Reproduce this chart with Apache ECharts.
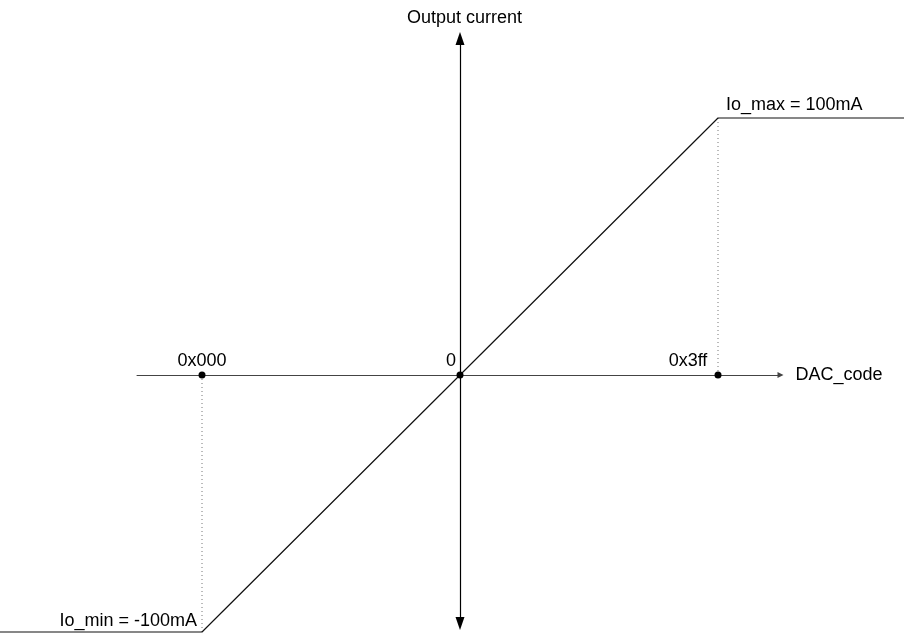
<!DOCTYPE html>
<html>
<head>
<meta charset="utf-8">
<script src="https://cdn.jsdelivr.net/npm/echarts@6/dist/echarts.min.js"></script>
<style>html,body{margin:0;padding:0;background:#fff;}#c{width:904px;height:634px;}</style>
</head>
<body>
<div id="c"></div>
<script>
// Transfer curve (x: normalized DAC code position, y: output current in mA)
const curveX = [-1.79, -1, 1, 1.73];
const curveY = [-100, -100, 100, 100];
// Marked DAC codes on the x axis
const codeX = [-1, 0, 1];
const codeLabels = ['0x000', '0', '0x3ff'];
// Current limits
const limitX = [1, -1];
const limitY = [100, -100];
const limitLabels = ['Io_max = 100mA', 'Io_min = -100mA'];
const axisNames = { x: 'DAC_code', y: 'Output current' };

const FONT = 'Liberation Sans, Arial, sans-serif';
const chart = echarts.init(document.getElementById('c'), null, { renderer: 'canvas' });

const curveData = curveX.map((x, i) => [x, curveY[i]]);
const codeData = codeX.map((x, i) => {
  const offs = [[0, 0], [-9, 0], [-30, 0]];
  return { value: [x, 0], label: { formatter: codeLabels[i], offset: offs[i] } };
});
const dropData = [
  [[limitX[1], 0], [limitX[1], limitY[1]]],
  [[limitX[0], 0], [limitX[0], limitY[0]]]
];
const limitData = limitX.map((x, i) => ({
  value: [x, limitY[i]],
  label: i === 0
    ? { formatter: limitLabels[i], align: 'left', offset: [8, 0], distance: 3 }
    : { formatter: limitLabels[i], align: 'right', offset: [-5, 0], distance: 1 }
}));

const PX_PER_MA = 2.57, PX_PER_X = 258, X0 = 460, Y0 = 375;
const hiddenAxis = {
  axisLine: { show: false }, axisTick: { show: false }, axisLabel: { show: false }, splitLine: { show: false }
};

const option = {
  animation: false,
  backgroundColor: '#ffffff',
  grid: [
    { left: 137, right: 123.5, top: 38.5, bottom: 10.5, containLabel: false },
    { left: 0, right: 0, top: 0, bottom: 0, containLabel: false }
  ],
  xAxis: [
    {
      type: 'value', gridIndex: 0,
      min: (137 - X0) / PX_PER_X, max: (780.5 - X0) / PX_PER_X,
      name: axisNames.x, nameLocation: 'end', nameGap: 15,
      nameTextStyle: { fontFamily: FONT, fontSize: 18, color: '#000' },
      axisLine: { onZero: true, lineStyle: { color: '#444', width: 1 }, symbol: ['none', 'triangle'], symbolSize: [6, 6] },
      axisTick: { show: false }, axisLabel: { show: false }, splitLine: { show: false }, z: 3
    },
    Object.assign({ type: 'value', gridIndex: 1, min: -X0 / PX_PER_X, max: (904 - X0) / PX_PER_X }, hiddenAxis)
  ],
  yAxis: [
    {
      type: 'value', gridIndex: 0,
      min: -(623.5 - Y0) / PX_PER_MA, max: (Y0 - 38.5) / PX_PER_MA,
      name: axisNames.y, nameLocation: 'end', nameGap: 11,
      nameTextStyle: { fontFamily: FONT, fontSize: 18, color: '#000', align: 'center', padding: [0, 0, 0, 9] },
      axisLine: { onZero: true, lineStyle: { color: '#000', width: 1.2 }, symbol: ['triangle', 'triangle'], symbolSize: [9, 13] },
      axisTick: { show: false }, axisLabel: { show: false }, splitLine: { show: false }, z: 3
    },
    Object.assign({ type: 'value', gridIndex: 1, min: -(634 - Y0) / PX_PER_MA, max: Y0 / PX_PER_MA }, hiddenAxis)
  ],
  series: [
    {
      type: 'line', xAxisIndex: 1, yAxisIndex: 1, data: curveData, showSymbol: false, symbol: 'none',
      lineStyle: { color: '#111', width: 1.2 }, z: 3
    },
    ...dropData.map(d => ({
      type: 'line', xAxisIndex: 1, yAxisIndex: 1, data: d, showSymbol: false, symbol: 'none',
      lineStyle: { color: '#777', width: 1, type: [1, 3] }, z: 2
    })),
    {
      type: 'scatter', xAxisIndex: 1, yAxisIndex: 1, data: codeData, symbol: 'circle', symbolSize: 7,
      itemStyle: { color: '#000', opacity: 1 },
      label: { show: true, position: 'top', distance: 1, fontFamily: FONT, fontSize: 18, color: '#000' },
      z: 5
    },
    {
      type: 'scatter', xAxisIndex: 1, yAxisIndex: 1, data: limitData, symbol: 'circle', symbolSize: 1,
      itemStyle: { color: '#fff', opacity: 0 },
      label: { show: true, position: 'top', fontFamily: FONT, fontSize: 18, color: '#000', opacity: 1 },
      z: 5
    }
  ]
};
chart.setOption(option);
</script>
</body>
</html>
